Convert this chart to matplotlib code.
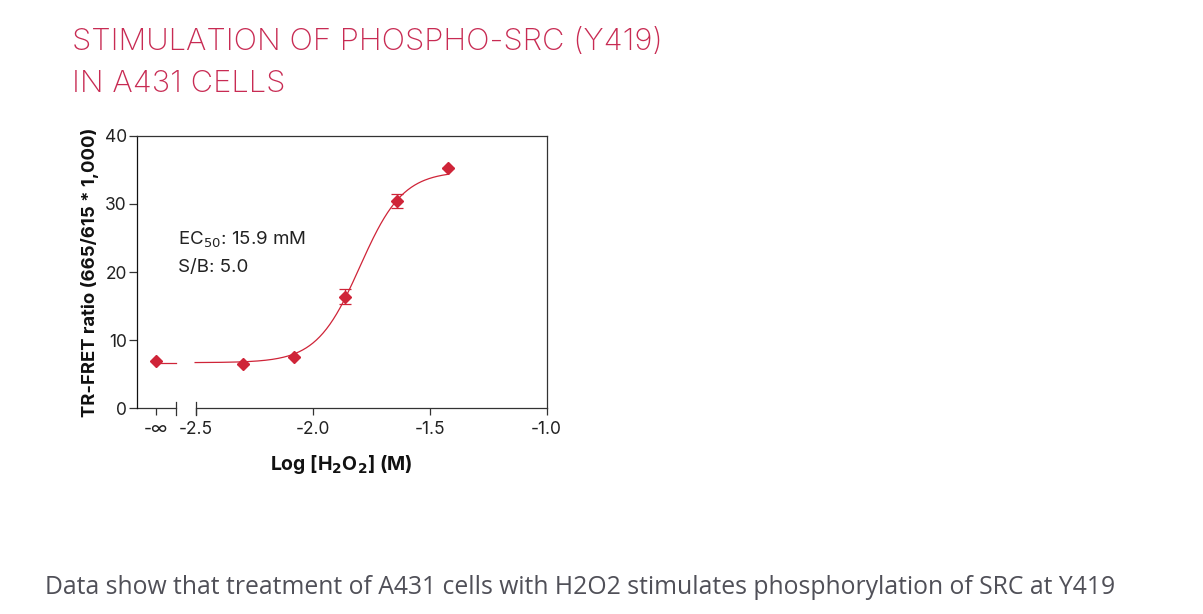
import numpy as np
import matplotlib
matplotlib.use("Agg")
import matplotlib.pyplot as plt

# zero-dose (plotted at the "-inf" position) and dose points
zero_dose_value = 7.0
log_h2o2 = [-2.30, -2.08, -1.86, -1.64, -1.42]
ratio = [6.5, 7.5, 16.4, 30.4, 35.2]
ratio_err = [0.0, 0.0, 1.1, 1.0, 0.0]

# 4-parameter logistic fit shown in the figure
fit_bottom = 6.7
fit_top = 34.8
fit_log_ec50 = np.log10(0.0159)
fit_hill = 4.7

xtick_vals = [-2.67, -2.5, -2.0, -1.5, -1.0]
xtick_labels = ["-\u221e", "-2.5", "-2.0", "-1.5", "-1.0"]
ytick_vals = [0, 10, 20, 30, 40]

RED = "#cf2438"
TITLE_RED = "#c82b53"
NEG_INF_X = xtick_vals[0]
BREAK_X = (-2.585, -2.5)

plt.rcParams["font.family"] = ["Inter", "DejaVu Sans"]

fig = plt.figure(figsize=(12.03, 6.14), dpi=100)
ax = fig.add_axes([0.1136, 0.335, 0.3407, 0.444])

# fitted curve
xs = np.linspace(-2.503, -1.419, 300)
ys = fit_bottom + (fit_top - fit_bottom) / (1 + 10 ** ((fit_log_ec50 - xs) * fit_hill))
ax.plot(xs, ys, color=RED, lw=0.9, zorder=2)
ax.plot([NEG_INF_X, BREAK_X[0]], [fit_bottom, fit_bottom], color=RED, lw=0.9, zorder=2)

# points
ax.errorbar(log_h2o2, ratio, yerr=ratio_err, fmt="none", ecolor=RED,
            elinewidth=0.9, capsize=4.6, capthick=0.9, zorder=3)
ax.plot(log_h2o2, ratio, "D", color=RED, ms=6.6, mec=RED, zorder=4)
ax.plot([NEG_INF_X], [zero_dose_value], "D", color=RED, ms=6.6, mec=RED, zorder=4)

ax.set_xlim(-2.753, -1.0)
ax.set_ylim(0, 40)

# broken x axis
spine_col = "#333333"
ax.spines["bottom"].set_visible(False)
for s in ("left", "top", "right"):
    ax.spines[s].set_color(spine_col)
    ax.spines[s].set_linewidth(0.9)
ax.spines["left"].set_color("#111111")
ax.plot([-2.753, BREAK_X[0]], [0, 0], color=spine_col, lw=0.9, clip_on=False)
ax.plot([BREAK_X[1], -1.0], [0, 0], color=spine_col, lw=0.9, clip_on=False)
for bx in BREAK_X:
    ax.plot([bx, bx], [-0.95, 0.95], color=spine_col, lw=0.9, clip_on=False)

ax.set_xticks(xtick_vals)
ax.set_xticklabels(xtick_labels)
ax.get_xticklabels()[0].set_fontsize(14)
ax.set_yticks(ytick_vals)
ax.tick_params(axis="x", direction="out", length=5, width=0.9, color=spine_col,
               pad=4, labelsize=12.5, labelcolor="#222222")
ax.tick_params(axis="y", direction="out", length=6, width=0.9, color=spine_col,
               pad=1, labelsize=12.5, labelcolor="#222222")

ax.set_xlabel("Log [H$_\\mathbf{2}$O$_\\mathbf{2}$] (M)", fontsize=14,
              fontweight="bold", color="#111111", labelpad=11)
ax.set_ylabel("TR-FRET ratio (665/615 * 1,000)", fontsize=13.3,
              fontweight="bold", color="#111111", labelpad=4.5)

ax.text(0.10, 0.617, "EC$_{50}$: 15.9 mM", transform=ax.transAxes,
        fontsize=13.5, color="#222222", va="center")
ax.text(0.10, 0.518, "S/B: 5.0", transform=ax.transAxes,
        fontsize=13.5, color="#222222", va="center")

fig.text(72 / 1203, 1 - 50 / 614, "STIMULATION OF PHOSPHO-SRC (Y419)",
         fontsize=22.3, color=TITLE_RED, fontweight="light", va="baseline")
fig.text(72 / 1203, 1 - 92 / 614, "IN A431 CELLS",
         fontsize=22.3, color=TITLE_RED, fontweight="light", va="baseline")

fig.text(45 / 1203, 1 - 594 / 614,
         "Data show that treatment of A431 cells with H2O2 stimulates phosphorylation of SRC at Y419",
         fontsize=17.85, color="#505058", family=["Open Sans", "DejaVu Sans"], va="baseline")

fig.savefig("out.png", dpi=100)
